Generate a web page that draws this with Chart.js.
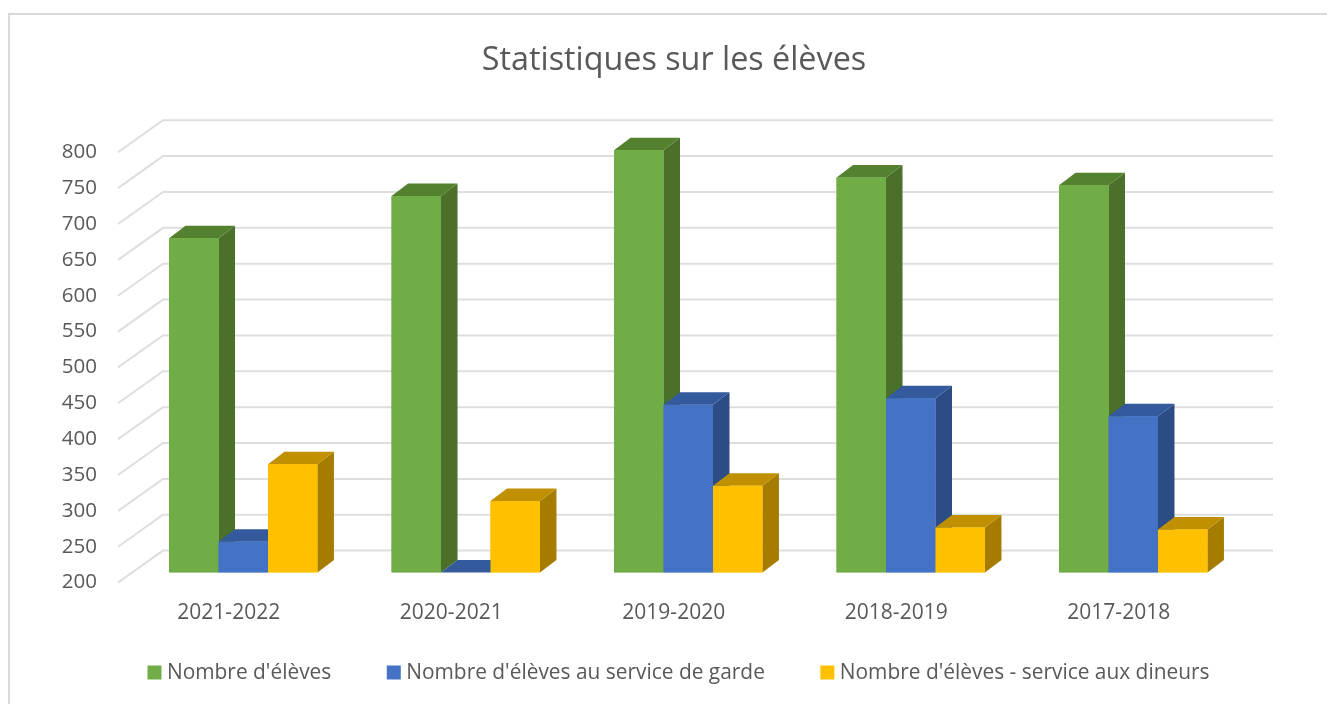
<!DOCTYPE html>
<html>
<head>
<meta charset="utf-8">
<title>Statistiques sur les élèves</title>
<script src="https://cdn.jsdelivr.net/npm/chart.js@4"></script>
<style>
  html, body { margin: 0; padding: 0; background: #fff; }
  canvas { display: block; }
</style>
</head>
<body>
<canvas id="chart" width="1327" height="704"></canvas>
<script>
const years = ['2021-2022', '2020-2021', '2019-2020', '2018-2019', '2017-2018'];
const eleves = [666, 725, 789, 751, 740];
const serviceGarde = [243, 200, 434, 443, 418];
const serviceDineurs = [351, 300, 321, 263, 260];

const textColor = '#595959';
const fontFamily = '"Open Sans", sans-serif';

// Fake 3D: front/back of the floor relative to the plane of the bars
const floorFront = { dx: -14, dy: 10 };
const floorBack = { dx: 31, dy: -22 };
const floorBackRightDx = 28.5;
const barDepth = { dx: 16.5, dy: -12.5 };

const sideColors = ['#4a7029', '#2c4c85', '#a67c00'];
const topColors = ['#54812f', '#325a9d', '#c09000'];

function poly(ctx, color, pts) {
  ctx.fillStyle = color;
  ctx.beginPath();
  pts.forEach((p, i) => i ? ctx.lineTo(p[0], p[1]) : ctx.moveTo(p[0], p[1]));
  ctx.closePath();
  ctx.fill();
}

const frame3d = {
  id: 'frame3d',
  afterLayout(chart) {
    // x labels sit lower than the box the layout gave them, they get clipped otherwise
    chart.scales.x.bottom += 30;
    chart.legend.left += 7;
    chart.legend.right += 7;
  },
  beforeDraw(chart) {
    // outer chart border, only left and top show in the picture
    const ctx = chart.ctx;
    ctx.save();
    ctx.strokeStyle = '#d9d9d9';
    ctx.lineWidth = 2;
    ctx.beginPath();
    ctx.moveTo(9, 704);
    ctx.lineTo(9, 14);
    ctx.lineTo(1327, 14);
    ctx.stroke();
    ctx.restore();
  },
  beforeDatasetsDraw(chart) {
    const { ctx, chartArea, scales } = chart;
    ctx.save();
    ctx.strokeStyle = '#dedede';
    ctx.lineWidth = 2;
    scales.y.ticks.forEach(t => {
      const y = scales.y.getPixelForValue(t.value);
      ctx.beginPath();
      ctx.moveTo(chartArea.left + floorFront.dx, y + floorFront.dy);
      ctx.lineTo(chartArea.left + floorBack.dx, y + floorBack.dy);
      ctx.lineTo(chartArea.right + floorBackRightDx, y + floorBack.dy);
      ctx.stroke();
    });
    ctx.restore();
  },
  afterDatasetsDraw(chart) {
    // left to right so each bar covers the side of the one before it
    const ctx = chart.ctx;
    const base = chart.scales.y.getPixelForValue(200);
    const dx = barDepth.dx, dy = barDepth.dy;
    years.forEach((_, i) => {
      chart.data.datasets.forEach((ds, d) => {
        const el = chart.getDatasetMeta(d).data[i];
        const l = el.x - el.width / 2, r = el.x + el.width / 2, t = el.y;
        poly(ctx, sideColors[d], [[r, t], [r + dx, t + dy], [r + dx, base + dy], [r, base]]);
        poly(ctx, topColors[d], [[l, t], [l + dx, t + dy], [r + dx, t + dy], [r, t]]);
        el.draw(ctx);
      });
    });
  }
};

new Chart(document.getElementById('chart'), {
  type: 'bar',
  plugins: [frame3d],
  data: {
    labels: years,
    datasets: [
      { label: "Nombre d'élèves", data: eleves, backgroundColor: '#70ad47' },
      { label: "Nombre d'élèves au service de garde", data: serviceGarde, backgroundColor: '#4472c4' },
      { label: "Nombre d'élèves - service aux dineurs", data: serviceDineurs, backgroundColor: '#ffc000' }
    ]
  },
  options: {
    responsive: false,
    animation: false,
    // left padding centres title and legend on 674, the empty y2 axis keeps the plot off the right edge
    layout: { padding: { left: 21, right: 0, top: 0, bottom: 11 } },
    datasets: { bar: { categoryPercentage: 0.667, barPercentage: 1, borderWidth: 0, base: 200 } },
    plugins: {
      tooltip: { enabled: false },
      title: {
        display: true,
        text: 'Statistiques sur les élèves',
        color: textColor,
        font: { family: fontFamily, size: 32.3, weight: 'normal', lineHeight: 1.2 },
        padding: { top: 41, bottom: 62.5 }
      },
      legend: {
        position: 'bottom',
        labels: {
          color: textColor,
          font: { family: fontFamily, size: 20.9 },
          boxWidth: 4,
          boxHeight: 4,
          padding: 60.5,
          // thick stroke gives the 14px swatch with a small gap before the text
          generateLabels(chart) {
            return chart.data.datasets.map((ds, i) => ({
              text: ds.label,
              fillStyle: ds.backgroundColor,
              strokeStyle: ds.backgroundColor,
              lineWidth: 10,
              lineJoin: 'miter',
              fontColor: textColor,
              datasetIndex: i
            }));
          }
        }
      }
    },
    scales: {
      x: {
        grid: { display: false },
        border: { display: false },
        ticks: { color: textColor, font: { family: fontFamily, size: 21 }, padding: 20, labelOffset: -14.5, maxRotation: 0 },
        afterFit(scale) { scale.height = 29; }
      },
      y: {
        min: 200,
        max: 800,
        grid: { display: false },
        border: { display: false },
        ticks: { stepSize: 50, color: textColor, font: { family: fontFamily, size: 20.5 }, padding: 27, labelOffset: 10 },
        afterFit(scale) { scale.width = 111; }
      },
      y2: {
        position: 'right',
        grid: { display: false },
        border: { display: false },
        ticks: { display: false },
        afterFit(scale) { scale.width = 82.5; }
      }
    }
  }
});
</script>
</body>
</html>
